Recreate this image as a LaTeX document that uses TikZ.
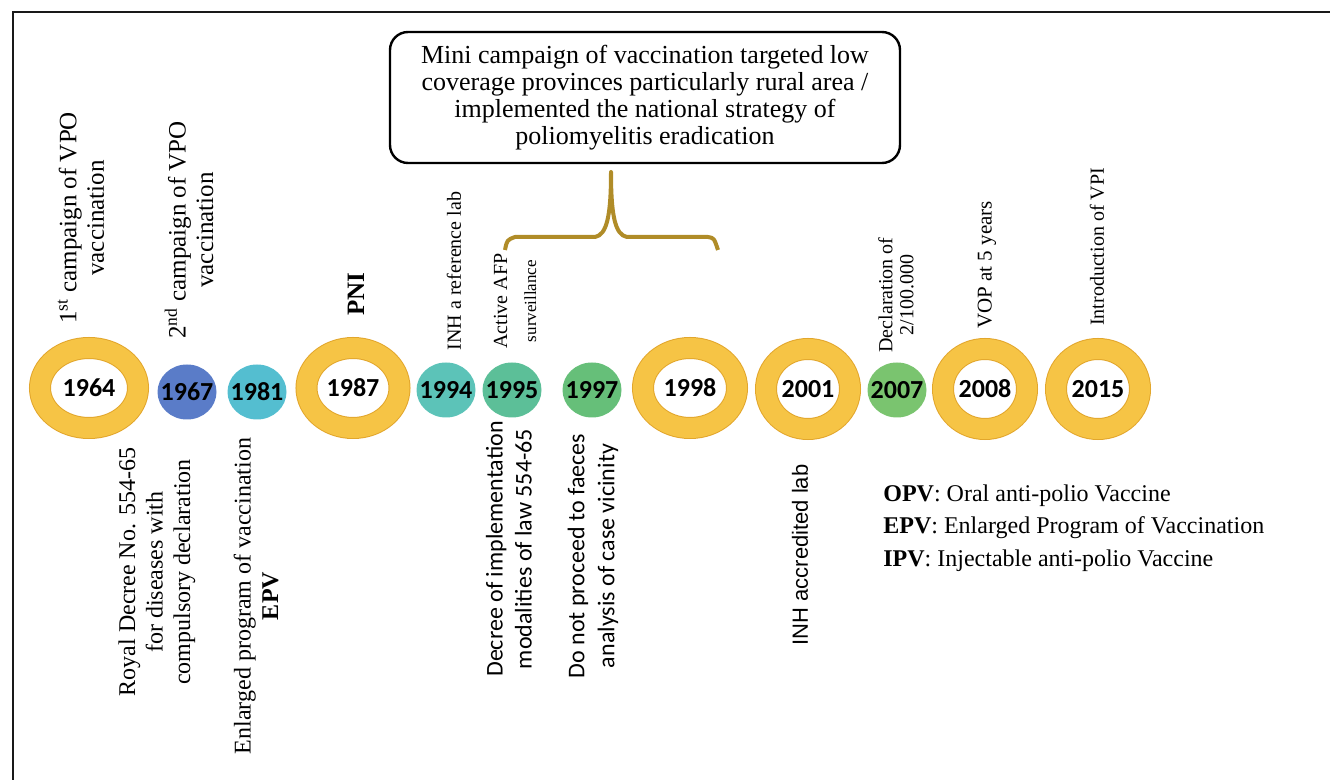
\documentclass[tikz,border=0pt]{standalone}
\usepackage{fontspec}
\setmainfont{Liberation Serif}
\newfontfamily\yearfont{Carlito}
\newfontfamily\calfont{Carlito}
\newfontfamily\labfont{Liberation Sans}
\usetikzlibrary{shapes.geometric}

\definecolor{ringY}{HTML}{F6C445}
\definecolor{ringE}{HTML}{E2A62C}
\definecolor{braceC}{HTML}{B08C28}
\definecolor{c1967}{HTML}{5A7CC8}
\definecolor{c1981}{HTML}{54BED0}
\definecolor{c1994}{HTML}{5CC3B8}
\definecolor{c1995}{HTML}{5CBF98}
\definecolor{c1997}{HTML}{66BF79}
\definecolor{c2007}{HTML}{7AC46F}

\newcommand{\yr}[1]{\makebox[0pt]{#1}}

\begin{document}
\begin{tikzpicture}[x=0.5pt,y=-0.5pt,
        ring/.style={ellipse,draw=ringY,line width=10pt,minimum width=#1,minimum height=40pt,inner sep=0pt,
            preaction={fill=white,draw=ringE,line width=11pt},
            font=\yearfont\bfseries\fontsize{13}{13}\selectfont},
        ring/.default=42pt,
        disc/.style={ellipse,fill=#1,minimum width=29.5pt,minimum height=27.5pt,inner sep=0pt,
            font=\yearfont\bfseries\fontsize{13}{13}\selectfont},
        vl/.style={rotate=90,align=center,inner sep=0pt,font=\fontsize{12}{13.75}\selectfont},
        bx/.style={draw,line width=1.2pt,rounded corners=9pt,minimum width=255pt,minimum height=65.5pt,
            align=center,font=\fontsize{13}{13.5}\selectfont},
        frame/.style={line width=1pt,gray!20!black}
    ]

    \useasboundingbox (0,0) rectangle (1330,780);
    \draw[frame] (13,780) -- (13,12) -- (1330,12);

    % years
    \node[ring=49pt] (y1964) at (89,388) {\yr{1964}};
    \node[disc=c1967] (y1967) at (187,392) {\yr{1967}};
    \node[disc=c1981] (y1981) at (257,392) {\yr{1981}};
    \node[ring=46.5pt] (y1987) at (353,388) {\yr{1987}};
    \node[disc=c1994] (y1994) at (446,390) {\yr{1994}};
    \node[disc=c1995] (y1995) at (512,390) {\yr{1995}};
    \node[disc=c1997] (y1997) at (592,390) {\yr{1997}};
    \node[ring=47pt] (y1998) at (690,388) {\yr{1998}};
    \node[ring] (y2001) at (808,389) {\yr{2001}};
    \node[disc=c2007] (y2007) at (897,390) {\yr{2007}};
    \node[ring] (y2008) at (985,389) {\yr{2008}};
    \node[ring] (y2015) at (1098,389) {\yr{2015}};

    % events above
    \node[vl,font=\fontsize{12.5}{13.75}\selectfont] (t1964) at (81,218) {1\textsuperscript{st} campaign of VPO\\vaccination};
    \node[vl,font=\fontsize{12.5}{13.75}\selectfont] (t1967) at (189,230) {2\textsuperscript{nd} campaign of VPO\\vaccination};
    \node[vl,font=\bfseries\fontsize{12.5}{14}\selectfont] (t1987) at (356,294) {PNI};
    \node[vl,font=\fontsize{10}{11}\selectfont] (t1994) at (454,271) {INH a reference lab};
    \node[vl,font=\fontsize{10}{14.5}\selectfont] (t1995) at (515,301) {Active AFP\\{\fontsize{8.5}{9}\selectfont surveillance}};
    \node[vl,font=\fontsize{10}{10.5}\selectfont] (t2007) at (896,295) {Declaration of\\2/100.000};
    \node[vl,font=\fontsize{10.5}{12}\selectfont] (t2008) at (987,265) {VOP at 5 years};
    \node[vl,font=\fontsize{10}{12}\selectfont] (t2015) at (1097,247) {Introduction of VPI};

    % events below
    \node[vl] (b1964) at (157,572) {Royal Decree No. 554-65\\for diseases with\\compulsory declaration};
    \node[vl] (b1981) at (256,596) {Enlarged program of vaccination\\\textbf{EPV}};
    \node[vl,font=\calfont\fontsize{12}{14.5}\selectfont] (b1995) at (509,549) {Decree of implementation\\modalities of law 554-65};
    \node[vl,font=\calfont\fontsize{12}{15}\selectfont] (b1997) at (593,556) {Do not proceed to faeces\\analysis of case vicinity};
    \node[vl,font=\labfont\fontsize{11}{12}\selectfont] (b2001) at (800,555) {INH accredited lab};

    % mini campaign
    \node[bx] (mini) at (645,97.5) {Mini campaign of vaccination targeted low\\coverage provinces particularly rural area /\\implemented the national strategy of\\poliomyelitis eradication};
    \draw[braceC,line width=2pt,line join=round]
        (505,250) .. controls (507,240) .. (515,237) -- (595,237)
        .. controls (607,235) and (611,215) .. (611,172)
        .. controls (611,215) and (615,235) .. (627,237) -- (708,237)
        .. controls (714,238) .. (718,250);

    % abbreviations
    \node[anchor=north west,align=left,inner sep=0pt,font=\fontsize{12}{16.25}\selectfont] (key) at (883,484)
        {\textbf{OPV}: Oral anti-polio Vaccine\\\textbf{EPV}: Enlarged Program of Vaccination\\\textbf{IPV}: Injectable anti-polio Vaccine};

\end{tikzpicture}
\end{document}
